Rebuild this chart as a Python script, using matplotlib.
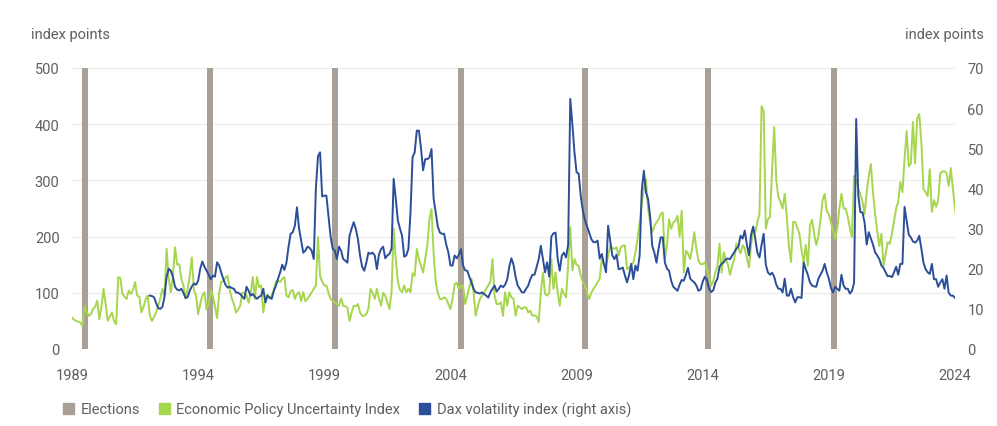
import matplotlib.pyplot as plt
from matplotlib.patches import Patch
import numpy as np

plt.rcParams['font.family'] = ['Roboto', 'DejaVu Sans']

year_ticks = [1989, 1994, 1999, 2004, 2009, 2014, 2019, 2024]
# european elections (position)
elections = [1989.52, 1994.48, 1999.42, 2004.42, 2009.33, 2014.22, 2019.2]

# Economic Policy Uncertainty Index, monthly from Jan 1989 (left axis)
epu = [
    56, 52, 50, 48, 47, 41, 77, 65, 59, 62, 71, 75,            # 1989
    86, 53, 75, 107, 80, 50, 58, 65, 50, 44, 128, 126,         # 1990
    98, 93, 89, 104, 98, 105, 119, 95, 93, 65, 75, 88,         # 1991
    95, 60, 50, 57, 65, 77, 90, 107, 95, 178, 125, 101,        # 1992
    130, 181, 150, 151, 125, 113, 90, 107, 130, 163, 105, 95,  # 1993
    62, 80, 95, 101, 70, 80, 104, 95, 75, 55, 100, 120,        # 1994
    120, 127, 130, 105, 90, 80, 65, 70, 77, 100, 100, 95,      # 1995
    82, 100, 128, 89, 128, 110, 113, 65, 90, 97, 90, 95,       # 1996
    105, 120, 122, 119, 125, 128, 95, 92, 103, 105, 89, 98,    # 1997
    101, 85, 101, 85, 89, 95, 101, 107, 113, 199, 130, 120,    # 1998
    113, 113, 100, 89, 85, 83, 80, 77, 90, 77, 76, 74,         # 1999
    50, 65, 77, 76, 80, 65, 59, 59, 62, 72, 107, 100,          # 2000
    89, 107, 90, 77, 100, 95, 83, 71, 101, 214, 160, 120,      # 2001
    105, 101, 113, 101, 107, 101, 135, 130, 178, 160, 148, 136,  # 2002
    160, 184, 231, 249, 170, 120, 100, 89, 89, 92, 89, 80,     # 2003
    71, 89, 115, 118, 107, 113, 113, 80, 95, 110, 125, 101,    # 2004
    59, 75, 89, 95, 100, 107, 113, 120, 160, 95, 80, 80,       # 2005
    83, 59, 101, 77, 101, 92, 89, 59, 77, 74, 71, 74,          # 2006
    74, 65, 68, 59, 60, 58, 48, 101, 136, 98, 95, 100,         # 2007
    160, 107, 136, 101, 77, 107, 98, 92, 150, 217, 140, 160,   # 2008
    150, 148, 130, 119, 113, 100, 89, 100, 107, 112, 119, 125,  # 2009
    160, 150, 148, 166, 184, 180, 178, 181, 166, 181, 184, 184,  # 2010
    142, 145, 150, 154, 172, 196, 225, 260, 285, 302, 250, 225,  # 2011
    208, 219, 225, 231, 240, 243, 160, 184, 231, 214, 225, 228,  # 2012
    237, 200, 246, 136, 175, 170, 160, 180, 208, 178, 157, 151,  # 2013
    151, 154, 142, 130, 113, 120, 136, 148, 187, 136, 172, 160,  # 2014
    150, 132, 148, 160, 188, 180, 170, 185, 178, 162, 145, 185,  # 2015
    215, 208, 226, 240, 432, 423, 214, 231, 235, 320, 395, 300,  # 2016
    270, 262, 250, 276, 235, 183, 155, 226, 226, 215, 205, 175,  # 2017
    155, 185, 148, 219, 230, 205, 185, 200, 230, 265, 276, 245,  # 2018
    240, 225, 210, 196, 215, 250, 276, 250, 250, 235, 215, 199,  # 2019
    308, 300, 285, 275, 262, 240, 279, 308, 329, 279, 240, 210,  # 2020
    183, 205, 148, 170, 190, 187, 205, 228, 250, 262, 297, 279,  # 2021
    338, 388, 325, 330, 404, 330, 410, 418, 368, 285, 279, 272,  # 2022
    320, 244, 265, 253, 265, 313, 316, 316, 313, 290, 322, 285,  # 2023
    250, 225, 196,                                               # 2024
]

# Dax volatility index, monthly from Feb 1992 (right axis)
vdax = [
    13.3, 13.2, 12.9, 11.5, 10.2, 10.0, 10.5, 13.0, 18.0, 20.0, 19.5,  # 1992
    18.0, 15.5, 14.8, 14.6, 15.0, 14.0, 12.7, 12.9, 14.5, 15.6, 16.3, 16.0,  # 1993
    17.0, 20.0, 21.8, 20.5, 19.5, 18.5, 17.4, 18.3, 18.0, 21.6, 20.8, 19.0,  # 1994
    17.4, 16.0, 15.3, 15.5, 15.2, 15.0, 14.1, 14.0, 13.7, 13.0, 12.5, 15.5,  # 1995
    14.5, 13.3, 13.7, 13.0, 12.5, 13.0, 13.3, 15.0, 11.6, 13.3, 12.8, 12.5,  # 1996
    14.5, 15.8, 17.5, 19.1, 21.0, 19.7, 21.5, 25.5, 28.7, 29.1, 30.7, 35.3,  # 1997
    30.0, 27.0, 24.0, 24.5, 25.5, 25.2, 24.5, 22.4, 40.0, 48.0, 49.0, 38.0,  # 1998
    38.2, 38.2, 33.0, 28.0, 25.0, 24.5, 22.4, 25.5, 24.5, 22.4, 22.0, 21.5,  # 1999
    28.2, 30.0, 31.6, 29.9, 27.4, 23.3, 20.5, 19.5, 21.5, 24.0, 23.7, 24.0,  # 2000
    23.3, 19.9, 23.5, 24.9, 25.5, 22.6, 23.3, 23.7, 25.0, 42.4, 37.4, 32.0,  # 2001
    30.0, 28.2, 23.0, 23.3, 24.9, 34.0, 47.8, 49.0, 54.4, 54.4, 50.0, 44.5,  # 2002
    47.3, 47.3, 47.7, 49.8, 37.5, 34.0, 30.5, 29.0, 28.7, 28.7, 26.0, 24.1,  # 2003
    20.8, 20.8, 23.3, 22.6, 23.5, 24.9, 20.8, 19.6, 19.5, 18.0, 16.6, 15.0,  # 2004
    14.1, 14.0, 13.8, 14.1, 13.7, 13.3, 12.8, 14.1, 15.0, 15.8, 14.3, 15.0,  # 2005
    15.8, 15.4, 16.0, 17.3, 20.5, 22.6, 21.0, 18.0, 15.8, 15.0, 14.1, 14.1,  # 2006
    15.0, 15.8, 17.4, 18.5, 18.5, 20.5, 22.4, 25.7, 22.4, 19.1, 21.6, 18.0,  # 2007
    28.0, 28.8, 29.0, 22.5, 19.5, 23.3, 24.0, 22.8, 26.0, 62.3, 56.0, 49.0,  # 2008
    44.0, 43.7, 38.0, 34.5, 32.0, 30.5, 29.0, 27.4, 26.6, 26.6, 27.0, 22.5,  # 2009
    23.7, 21.2, 19.1, 30.7, 27.0, 23.3, 22.4, 23.5, 19.9, 20.0, 20.3, 18.3,  # 2010
    16.6, 18.5, 21.2, 17.4, 20.8, 19.5, 23.3, 39.4, 44.4, 39.0, 37.4, 33.0,  # 2011
    25.7, 24.0, 21.5, 25.0, 27.8, 27.8, 21.5, 20.0, 19.5, 17.0, 15.5, 15.0,  # 2012
    14.5, 16.0, 17.2, 17.0, 18.5, 20.2, 17.6, 17.0, 16.6, 15.8, 14.5, 14.8,  # 2013
    16.8, 18.0, 17.2, 15.0, 14.2, 14.6, 16.5, 17.5, 20.5, 21.2, 21.6, 22.4,  # 2014
    22.5, 22.4, 23.3, 24.1, 25.0, 25.5, 28.2, 27.5, 29.5, 26.0, 23.3, 28.5,  # 2015
    30.5, 27.5, 24.0, 22.8, 26.0, 28.7, 21.0, 19.1, 18.5, 19.0, 18.0, 16.0,  # 2016
    15.0, 15.0, 14.1, 17.5, 13.3, 13.3, 15.0, 12.9, 11.6, 12.9, 12.9, 12.7,  # 2017
    21.6, 19.9, 18.5, 16.6, 15.8, 15.6, 15.5, 17.5, 18.5, 19.5, 21.2, 19.1,  # 2018
    17.5, 15.2, 14.1, 15.5, 15.0, 14.5, 18.5, 15.8, 15.0, 15.0, 13.8, 14.5,  # 2019
    16.5, 57.3, 38.2, 34.1, 34.0, 31.5, 26.0, 29.1, 27.5, 26.0, 24.1, 23.3,  # 2020
    22.4, 20.8, 20.2, 19.1, 18.1, 18.2, 17.9, 19.1, 20.5, 18.5, 21.2, 21.2,  # 2021
    35.4, 32.0, 28.5, 27.8, 26.8, 26.5, 27.0, 28.2, 25.0, 21.5, 19.9, 19.1,  # 2022
    18.7, 21.2, 17.4, 17.4, 15.5, 16.6, 17.4, 15.0, 18.3, 14.0, 13.3, 13.3,  # 2023
    12.7, 13.5, 15.0,                                                        # 2024
]

epu_x = 1989 + np.arange(len(epu)) / 12
vdax_x = 1992 + (np.arange(len(vdax)) + 1) / 12

c_bar = '#a89f96'
c_green = '#a6d64d'
c_blue = '#2b4e98'
c_text = '#5f5f5f'

fig = plt.figure(figsize=(9.97, 4.27), dpi=100)
ax = fig.add_axes([72/997, 1 - 350/427, 883/997, 281/427])
ax2 = ax.twinx()

ax.bar(elections, 500, width=0.24, color=c_bar, zorder=2)
ax.plot(epu_x, epu, color=c_green, lw=1.4, zorder=3)
ax2.plot(vdax_x, vdax, color=c_blue, lw=1.4)

ax.set_xlim(1989, 2024)
ax.set_ylim(0, 500)
ax2.set_ylim(0, 70)
ax.set_xticks(year_ticks)
ax.set_xticklabels([str(y) for y in year_ticks])
ax.set_yticks(range(0, 501, 100))
ax2.set_yticks(range(0, 71, 10))
ax.grid(axis='y', color='#ececec', lw=0.9)
ax.set_axisbelow(True)

for a in (ax, ax2):
    for s in a.spines.values():
        s.set_visible(False)
ax.tick_params(axis='x', length=0, pad=14, labelsize=10.5, labelcolor=c_text)
ax.tick_params(axis='y', length=0, pad=9, labelsize=10.5, labelcolor=c_text)
ax2.tick_params(axis='y', length=0, pad=9, labelsize=10.5, labelcolor=c_text)

fig.text(31/997, 1 - 35/427, 'index points', ha='left', va='center', fontsize=10.5, color=c_text)
fig.text(984/997, 1 - 35/427, 'index points', ha='right', va='center', fontsize=10.5, color=c_text)

handles = [Patch(color=c_bar), Patch(color=c_green), Patch(color=c_blue)]
labels = ['Elections', 'Economic Policy Uncertainty Index', 'Dax volatility index (right axis)']
fig.legend(handles, labels, loc='center left', bbox_to_anchor=(63/997, 1 - 410/427), ncol=3,
           frameon=False, handlelength=0.75, handleheight=0.75, handletextpad=0.45,
           columnspacing=1.3, borderaxespad=0, borderpad=0, fontsize=10.5, labelcolor=c_text)

fig.savefig('out.png', dpi=100)
